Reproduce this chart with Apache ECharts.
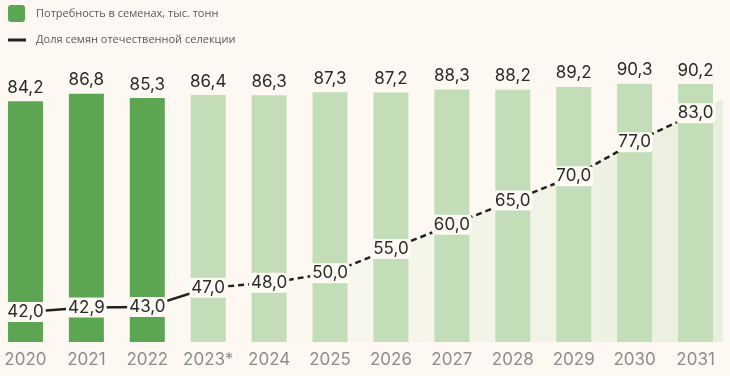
<!DOCTYPE html>
<html>
<head>
<meta charset="utf-8">
<script src="https://cdn.jsdelivr.net/npm/echarts@6/dist/echarts.min.js"></script>
<style>
  html, body { margin: 0; padding: 0; background: #fdf9f2; }
  #main { width: 730px; height: 376px; }
</style>
</head>
<body>
<div id="main"></div>
<script>
// годы
var years = ['2020', '2021', '2022', '2023*', '2024', '2025', '2026', '2027', '2028', '2029', '2030', '2031'];
// потребность в семенах, тыс. тонн
var demand = [84.2, 86.8, 85.3, 86.4, 86.3, 87.3, 87.2, 88.3, 88.2, 89.2, 90.3, 90.2];
// доля семян отечественной селекции
var share = [42.0, 42.9, 43.0, 47.0, 48.0, 50.0, 55.0, 60.0, 65.0, 70.0, 77.0, 83.0];
var factCount = 3;      // 2020-2022 факт, дальше прогноз
var tailShare = 86;     // хвост заливки справа от 2031

var fmt = function (v) { return v.toFixed(1).replace('.', ','); };

var barData = demand.map(function (v, i) {
  return { value: v, itemStyle: { color: i < factCount ? '#5ba553' : '#c3ddb9' } };
});
var solidLine = share.map(function (v, i) { return i <= factCount ? v : '-'; });
var dashLine = share.map(function (v, i) { return i >= factCount ? v : '-'; });
var areaData = [];
share.forEach(function (v, i) { if (i >= factCount) areaData.push([i, v]); });
areaData.push([years.length - 0.55, tailShare]);

var font = 'Inter';
var lineLabel = {
  show: true,
  position: 'inside',
  fontFamily: font,
  fontSize: 17,
  color: '#2b2b2b',
  backgroundColor: '#fdfaf4',
  borderRadius: 4,
  padding: [2, 2, 1, 2],
  formatter: function (p) { return fmt(p.value); }
};

var chart = echarts.init(document.getElementById('main'));
chart.setOption({
  backgroundColor: '#fdf9f2',
  animation: false,
  grid: { left: -5, right: 4, top: 56, bottom: 34, outerBoundsMode: 'none', containLabel: false },
  xAxis: [{
    type: 'category',
    data: years,
    axisLine: { show: false },
    axisTick: { show: false },
    axisLabel: { color: '#8d8d8d', fontFamily: font, fontSize: 17, margin: 9, interval: 0 }
  }, {
    type: 'value',
    min: -0.5,
    max: years.length - 0.5,
    show: false
  }],
  yAxis: [
    { type: 'value', min: 0, max: 100, show: false },
    { type: 'value', min: 35.8, max: 94.8, show: false }
  ],
  graphic: [
    { type: 'rect', shape: { x: 8, y: 5, width: 17, height: 17, r: 3 }, style: { fill: '#5ba553' } },
    { type: 'text', x: 36, y: 14, style: { text: 'Потребность в семенах, тыс. тонн', fill: '#5a5a5a', font: '11px "Open Sans"', verticalAlign: 'middle' } },
    { type: 'rect', shape: { x: 8, y: 38.5, width: 18, height: 3 }, style: { fill: '#222' } },
    { type: 'text', x: 36, y: 40, style: { text: 'Доля семян отечественной селекции', fill: '#5a5a5a', font: '11px "Open Sans"', verticalAlign: 'middle' } }
  ],
  series: [{
    type: 'line',
    xAxisIndex: 1,
    yAxisIndex: 1,
    data: areaData,
    symbol: 'none',
    lineStyle: { width: 0 },
    z: 1,
    areaStyle: {
      color: new echarts.graphic.LinearGradient(0, 0, 1, 0, [
        { offset: 0, color: 'rgba(226,236,216,0)' },
        { offset: 1, color: 'rgba(222,234,212,0.95)' }
      ])
    },
    silent: true
  }, {
    type: 'bar',
    data: barData,
    barWidth: 35,
    z: 2,
    label: {
      show: true,
      position: 'top',
      distance: 5,
      fontFamily: font,
      fontSize: 17,
      color: '#2b2b2b',
      formatter: function (p) { return fmt(p.value); }
    }
  }, {
    type: 'line',
    yAxisIndex: 1,
    data: solidLine,
    symbol: 'circle',
    symbolSize: 2,
    itemStyle: { color: '#222' },
    lineStyle: { color: '#222', width: 2.5 },
    z: 3,
    label: Object.assign({}, lineLabel, {
      formatter: function (p) { return p.dataIndex < factCount ? fmt(p.value) : ''; }
    })
  }, {
    type: 'line',
    yAxisIndex: 1,
    data: dashLine,
    symbol: 'circle',
    symbolSize: 2,
    itemStyle: { color: '#222' },
    lineStyle: { color: '#222', width: 2.5, type: [6, 4] },
    z: 4,
    label: lineLabel
  }]
});
</script>
</body>
</html>
